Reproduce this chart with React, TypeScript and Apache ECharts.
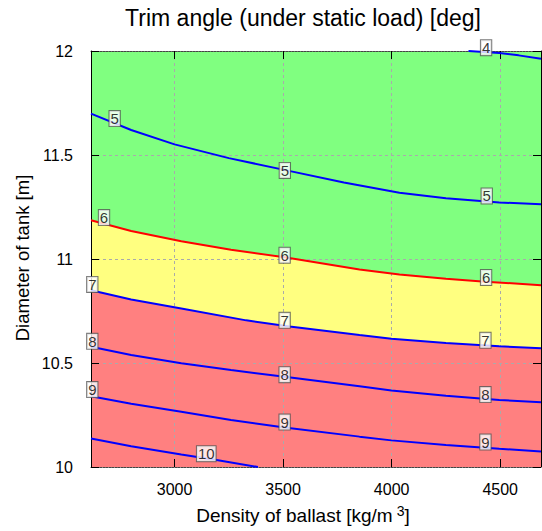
import React, { useEffect, useRef } from "react";
import * as echarts from "echarts";

// ---- data ----
const xMin = 2615;
const xMax = 4688;
const yMin = 10;
const yMax = 12;
const densityTicks = [3000, 3500, 4000, 4500];

const contour4 = [[4354, 12.0], [4496, 11.99], [4585, 11.979], [4688, 11.963]];
const contour5 = [[2615, 11.699], [2800, 11.62], [3000, 11.551], [3250, 11.485], [3516, 11.426], [3780, 11.368], [4036, 11.318], [4250, 11.292], [4496, 11.272], [4688, 11.263]];
const contour6 = [[2615, 11.186], [2800, 11.135], [3031, 11.085], [3260, 11.045], [3507, 11.008], [3852, 10.95], [4036, 10.925], [4250, 10.905], [4432, 10.891], [4688, 10.874]];
const contour7 = [[2615, 10.85], [2800, 10.805], [3031, 10.762], [3330, 10.705], [3530, 10.676], [3852, 10.635], [3999, 10.617], [4250, 10.596], [4496, 10.58], [4688, 10.571]];
const contour8 = [[2615, 10.578], [2800, 10.538], [3031, 10.499], [3260, 10.466], [3507, 10.434], [3852, 10.388], [3999, 10.368], [4250, 10.343], [4496, 10.322], [4688, 10.311]];
const contour9 = [[2615, 10.34], [2800, 10.304], [3031, 10.266], [3260, 10.226], [3507, 10.19], [3852, 10.146], [3999, 10.128], [4250, 10.106], [4496, 10.088], [4688, 10.075]];
const contour10 = [[2615, 10.137], [2800, 10.1], [3031, 10.06], [3200, 10.032], [3384, 10.0]];

const contourLabels = [
  [4435, 12.016, "4"],
  [2724, 11.675, "5"], [3508, 11.426, "5"], [4438, 11.303, "5"],
  [2675, 11.199, "6"], [3507, 11.018, "6"], [4435, 10.911, "6"],
  [2621, 10.878, "7"], [3507, 10.705, "7"], [4432, 10.609, "7"],
  [2621, 10.604, "8"], [3507, 10.444, "8"], [4432, 10.348, "8"],
  [2621, 10.372, "9"], [3507, 10.216, "9"], [4432, 10.12, "9"],
  [3146, 10.064, "10"],
];

const FONT = "Liberation Sans";

export default function App() {
  const ref = useRef<HTMLDivElement>(null);
  useEffect(() => {
    document.body.style.margin = "0";
    const chart = echarts.init(ref.current!, null, { renderer: "svg" });
    const lineSeries = (data: number[][], color: string) => ({
      type: "line",
      data,
      symbol: "none",
      lineStyle: { color, width: 2 },
      z: 3,
      silent: true,
    });
    const areaSeries = (data: number[][], color: string) => ({
      type: "line",
      data,
      symbol: "none",
      lineStyle: { width: 0 },
      areaStyle: { color, opacity: 1, origin: "start" },
      z: 1,
      silent: true,
    });
    const dotted = { color: "#444", width: 1, type: [2, 1] };
    chart.setOption({
      animation: false,
      grid: {
        left: 91, right: 1, top: 51, bottom: 64,
        show: true, backgroundColor: "#80ff80", borderWidth: 0,
      },
      xAxis: [
        {
          type: "value", min: xMin, max: xMax, position: "bottom", z: 2,
          axisLine: { show: true, lineStyle: dotted },
          axisTick: { show: true, inside: true, length: 8, lineStyle: { color: "#000" }, customValues: densityTicks },
          axisLabel: {
            customValues: densityTicks, formatter: (v: number) => String(v),
            fontSize: 16, color: "#000", fontFamily: FONT, margin: 14,
          },
          splitLine: { show: true, lineStyle: { color: "#aaa", type: [3, 3], width: 1 } },
        },
        {
          type: "value", min: xMin, max: xMax, position: "top", z: 2,
          axisLine: { show: true, lineStyle: dotted },
          axisTick: { show: true, inside: true, length: 8, lineStyle: { color: "#000" }, customValues: densityTicks },
          axisLabel: { show: false },
          splitLine: { show: false },
        },
      ],
      yAxis: [
        {
          type: "value", min: yMin, max: yMax, interval: 0.5, position: "left", z: 2,
          axisLine: { show: true, lineStyle: { color: "#000", width: 1 } },
          axisTick: { show: true, inside: true, length: 8, lineStyle: { color: "#000" } },
          axisLabel: { fontSize: 16, color: "#000", fontFamily: FONT, margin: 18, padding: [0, 0, 5, 0] },
          splitLine: { show: true, lineStyle: { color: "#aaa", type: [3, 3], width: 1 } },
        },
        {
          type: "value", min: yMin, max: yMax, interval: 0.5, position: "right", z: 2,
          axisLine: { show: true, lineStyle: { color: "#000", width: 1 } },
          axisTick: { show: true, inside: true, length: 8, lineStyle: { color: "#000" } },
          axisLabel: { show: false },
          splitLine: { show: false },
        },
      ],
      series: [
        areaSeries(contour6, "#ffff80"),
        areaSeries(contour7, "#ff8080"),
        lineSeries(contour4, "#0000ff"),
        lineSeries(contour5, "#0000ff"),
        lineSeries(contour6, "#ff0000"),
        lineSeries(contour7, "#0000ff"),
        lineSeries(contour8, "#0000ff"),
        lineSeries(contour9, "#0000ff"),
        lineSeries(contour10, "#0000ff"),
        {
          type: "scatter",
          data: contourLabels,
          symbolSize: 1,
          itemStyle: { color: "transparent" },
          clip: false,
          z: 4,
          silent: true,
          label: {
            show: true, position: "inside",
            formatter: (p: any) => p.data[2],
            backgroundColor: "#fff", borderColor: "#555", borderWidth: 1,
            padding: [1, 1, 0, 1], fontSize: 15, lineHeight: 14, color: "#000", fontFamily: FONT,
          },
        },
      ],
      graphic: [
        {
          type: "text", x: 303, y: 18,
          style: {
            text: "Trim angle (under static load) [deg]",
            fontSize: 23, fontFamily: FONT, fill: "#000",
            textAlign: "center", textVerticalAlign: "middle",
          },
        },
        {
          type: "text", x: 303, y: 515,
          style: {
            text: "{a|Density of ballast [kg/m}{s|3}{a|]}",
            rich: {
              a: { fontSize: 19, fontFamily: FONT, fill: "#000", lineHeight: 22 },
              s: { fontSize: 14, fontFamily: FONT, fill: "#000", verticalAlign: "top", padding: [0, 0, 0, 4] },
            },
            textAlign: "center", textVerticalAlign: "middle",
          },
        },
        {
          type: "text", x: 22, y: 258, rotation: Math.PI / 2,
          style: {
            text: "Diameter of tank [m]",
            fontSize: 18.5, fontFamily: FONT, fill: "#000",
            textAlign: "center", textVerticalAlign: "middle",
          },
        },
      ],
    });
    return () => chart.dispose();
  }, []);
  return <div ref={ref} style={{ width: 542, height: 531 }} />;
}
